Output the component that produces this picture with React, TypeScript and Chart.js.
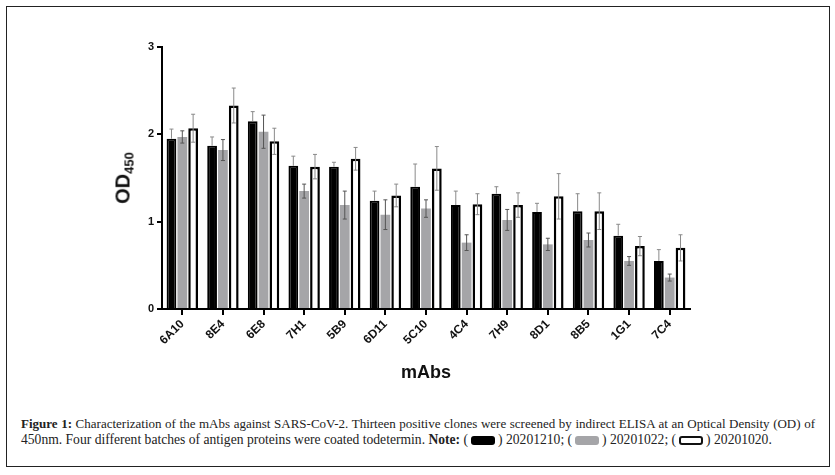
import React, { useEffect, useRef } from "react";
import { Chart, registerables } from "chart.js";

Chart.register(...registerables);

const categories = ["6A10", "8E4", "6E8", "7H1", "5B9", "6D11", "5C10", "4C4", "7H9", "8D1", "8B5", "1G1", "7C4"];
const batch20201210 = [1.95, 1.87, 2.15, 1.64, 1.63, 1.24, 1.4, 1.19, 1.32, 1.11, 1.12, 0.84, 0.55];
const err20201210 = [0.11, 0.1, 0.11, 0.11, 0.05, 0.11, 0.26, 0.16, 0.08, 0.1, 0.2, 0.13, 0.13];
const batch20201022 = [1.97, 1.82, 2.03, 1.35, 1.19, 1.08, 1.15, 0.76, 1.02, 0.74, 0.79, 0.55, 0.36];
const err20201022 = [0.07, 0.12, 0.19, 0.08, 0.16, 0.17, 0.1, 0.09, 0.12, 0.07, 0.08, 0.05, 0.04];
const batch20201020 = [2.07, 2.33, 1.92, 1.63, 1.72, 1.3, 1.61, 1.2, 1.19, 1.29, 1.12, 0.72, 0.7];
const err20201020 = [0.16, 0.2, 0.15, 0.14, 0.13, 0.13, 0.25, 0.12, 0.14, 0.26, 0.21, 0.11, 0.15];
const yTicks = [0, 1, 2, 3];

const errorBarPlugin = {
  id: "errorBars",
  afterDatasetsDraw(chart: any) {
    const ctx = chart.ctx;
    const yScale = chart.scales.y;
    chart.data.datasets.forEach((ds: any, di: number) => {
      const meta = chart.getDatasetMeta(di);
      const errs: number[] = ds.errors || [];
      meta.data.forEach((bar: any, i: number) => {
        const v = ds.data[i];
        const e = errs[i];
        if (e == null) return;
        const x = bar.x;
        const yTop = yScale.getPixelForValue(v + e);
        const yBot = ds.errorUpOnly ? yScale.getPixelForValue(v) : yScale.getPixelForValue(v - e);
        ctx.save();
        ctx.strokeStyle = ds.errorColor;
        ctx.lineWidth = 1;
        ctx.beginPath();
        ctx.moveTo(x, yTop);
        ctx.lineTo(x, yBot);
        ctx.moveTo(x - 2, yTop);
        ctx.lineTo(x + 2, yTop);
        if (!ds.errorUpOnly) {
          ctx.moveTo(x - 2, yBot);
          ctx.lineTo(x + 2, yBot);
        }
        ctx.stroke();
        ctx.restore();
      });
    });
  },
};

const sans = "'Liberation Sans', Arial, sans-serif";
const serif = "'Liberation Serif', 'Times New Roman', serif";

function Swatch({ fill, border }: { fill: string; border?: boolean }) {
  return (
    <span
      style={{
        display: "inline-block",
        width: 24,
        height: 9,
        background: fill,
        border: border ? "2px solid #111" : "none",
        borderRadius: 3,
        boxSizing: "border-box",
        verticalAlign: "-1px",
        margin: "0 3px",
      }}
    />
  );
}

export default function App() {
  const ref = useRef<HTMLCanvasElement>(null);

  useEffect(() => {
    if (!ref.current) return;
    const chart = new Chart(ref.current, {
      type: "bar",
      data: {
        labels: categories,
        datasets: [
          {
            label: "20201210",
            data: batch20201210,
            backgroundColor: "#000000",
            borderColor: "#000000",
            borderWidth: 2,
            errors: err20201210,
            errorColor: "#8a8a8a",
            errorUpOnly: true,
          } as any,
          {
            label: "20201022",
            data: batch20201022,
            backgroundColor: "#a5a5a8",
            borderWidth: 0,
            errors: err20201022,
            errorColor: "#555555",
          } as any,
          {
            label: "20201020",
            data: batch20201020,
            backgroundColor: "#ffffff",
            borderColor: "#000000",
            borderWidth: 2.5,
            errors: err20201020,
            errorColor: "#8a8a8a",
          } as any,
        ],
      },
      options: {
        animation: false,
        responsive: false,
        maintainAspectRatio: false,
        devicePixelRatio: 1,
        layout: { padding: { left: 0, right: 145, top: 47, bottom: 0 } },
        plugins: { legend: { display: false }, tooltip: { enabled: false } },
        datasets: { bar: { categoryPercentage: 0.8, barPercentage: 0.9 } },
        scales: {
          x: {
            offset: true,
            grid: { offset: false, drawOnChartArea: false, drawTicks: true, tickLength: 6, color: "#000", lineWidth: 2 },
            border: { display: true, color: "#000", width: 2 },
            ticks: {
              color: "#111",
              font: { family: sans, size: 12, weight: "bold" },
              minRotation: 45,
              maxRotation: 45,
              padding: 2,
            },
            afterFit(scale: any) {
              scale.height = 91;
            },
          },
          y: {
            min: 0,
            max: 3,
            afterBuildTicks(scale: any) {
              scale.ticks = yTicks.map((v) => ({ value: v }));
            },
            grid: { drawOnChartArea: false, drawTicks: true, tickLength: 5, color: "#000", lineWidth: 2 },
            border: { display: true, color: "#000", width: 2 },
            ticks: {
              color: "#111",
              font: { family: sans, size: 11, weight: "bold" },
              padding: 3,
            },
            afterFit(scale: any) {
              scale.width = 162;
            },
          },
        },
      } as any,
      plugins: [errorBarPlugin],
    });
    return () => chart.destroy();
  }, []);

  return (
    <div style={{ position: "absolute", left: 0, top: 0, width: 835, height: 475, background: "#fff", overflow: "hidden" }}>
      <div
        style={{
          position: "absolute",
          left: 6,
          top: 6,
          width: 824,
          height: 461,
          border: "1.5px solid #222",
          boxSizing: "border-box",
        }}
      />
      <canvas ref={ref} width={835} height={400} style={{ position: "absolute", left: 0, top: 0, width: 835, height: 400 }} />
      <div
        style={{
          position: "absolute",
          left: 126,
          top: 178,
          transform: "translate(-50%, -50%) rotate(-90deg)",
          fontFamily: sans,
          fontWeight: "bold",
          fontSize: 20,
          color: "#111",
          whiteSpace: "nowrap",
          lineHeight: "22px",
        }}
      >
        OD<sub style={{ fontSize: 13, verticalAlign: "-4px" }}>450</sub>
      </div>
      <div
        style={{
          position: "absolute",
          left: 426,
          top: 372,
          transform: "translate(-50%, -50%)",
          fontFamily: sans,
          fontWeight: "bold",
          fontSize: 18,
          color: "#111",
          whiteSpace: "nowrap",
        }}
      >
        mAbs
      </div>
      <div
        style={{
          position: "absolute",
          left: 21,
          top: 416,
          width: 794,
          fontFamily: serif,
          fontSize: 13,
          lineHeight: "16px",
          color: "#222",
        }}
      >
        <div style={{ textAlign: "justify", textAlignLast: "justify", whiteSpace: "nowrap" }}>
          <b>Figure 1:</b> Characterization of the mAbs against SARS-CoV-2. Thirteen positive clones were screened by indirect ELISA at an Optical Density (OD) of
        </div>
        <div style={{ whiteSpace: "nowrap", fontSize: 13.6 }}>
          450nm. Four different batches of antigen proteins were coated todetermin. <b>Note:</b> (<Swatch fill="#000" />) 20201210; (
          <Swatch fill="#a5a5a8" />) 20201022; (<Swatch fill="#fff" border />) 20201020.
        </div>
      </div>
    </div>
  );
}
